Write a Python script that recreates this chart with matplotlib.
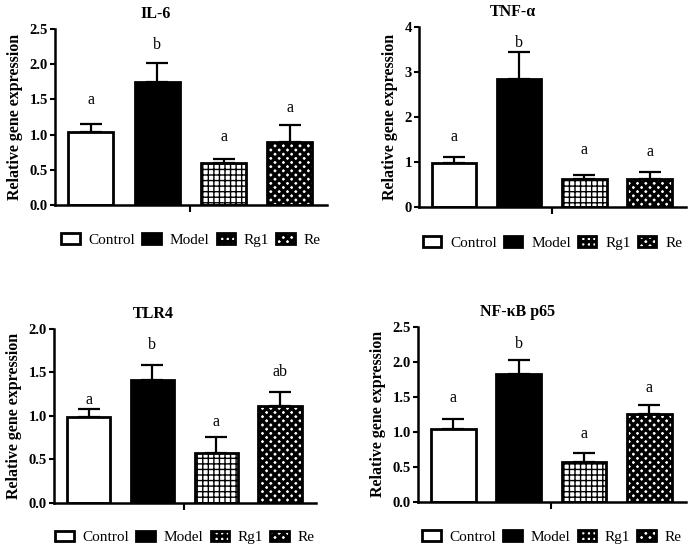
import matplotlib
matplotlib.use("Agg")
import matplotlib.pyplot as plt
from matplotlib.patches import Patch
import numpy as np

plt.rcParams['font.family'] = ['Liberation Serif', 'DejaVu Serif']

groups = ["Control", "Model", "Rg1", "Re"]

titles = ["IL-6", "TNF-α", "TLR4", "NF-κB p65"]

il6_mean = [1.04, 1.75, 0.59, 0.90]
il6_err = [0.11, 0.27, 0.06, 0.23]
il6_letters = ["a", "b", "a", "a"]
il6_letter_y = [1.49, 2.27, 0.97, 1.38]

tnf_mean = [0.97, 2.84, 0.62, 0.62]
tnf_err = [0.15, 0.60, 0.09, 0.15]
tnf_letters = ["a", "b", "a", "a"]
tnf_letter_y = [1.56, 3.64, 1.27, 1.22]

tlr4_mean = [0.99, 1.41, 0.57, 1.11]
tlr4_err = [0.09, 0.17, 0.19, 0.16]
tlr4_letters = ["a", "b", "a", "ab"]
tlr4_letter_y = [1.18, 1.82, 0.93, 1.50]

nfkb_mean = [1.04, 1.82, 0.57, 1.26]
nfkb_err = [0.14, 0.21, 0.12, 0.12]
nfkb_letters = ["a", "b", "a", "a"]
nfkb_letter_y = [1.48, 2.26, 0.97, 1.62]

ylims = [2.5, 4, 2.0, 2.5]
ysteps = [0.5, 1, 0.5, 0.5]
yfmt = ["{:.1f}", "{:.0f}", "{:.1f}", "{:.1f}"]

panels = [
    (il6_mean, il6_err, il6_letters, il6_letter_y),
    (tnf_mean, tnf_err, tnf_letters, tnf_letter_y),
    (tlr4_mean, tlr4_err, tlr4_letters, tlr4_letter_y),
    (nfkb_mean, nfkb_err, nfkb_letters, nfkb_letter_y),
]

facecolors = ["white", "black", "white", "white"]
hatches = [None, None, "+++", "xxxx"]
hatch_lws = [1.0, 1.0, 1.0, 2.4]

axes_pos = [
    [55 / 698, 1 - 205 / 550, 272 / 698, 176 / 550],
    [419 / 698, 1 - 207 / 550, 267 / 698, 180 / 550],
    [54 / 698, 1 - 502.7 / 550, 262 / 698, 173.7 / 550],
    [418 / 698, 1 - 501.7 / 550, 268 / 698, 175 / 550],
]
title_x = [0.37, 0.35, 0.38, 0.37]

fig = plt.figure(figsize=(6.98, 5.5), dpi=100)

def style_patch(p, lw_h):
    if hasattr(p, "set_hatch_linewidth"):
        p.set_hatch_linewidth(lw_h)

for i, (mean, err, letters, ly) in enumerate(panels):
    ax = fig.add_axes(axes_pos[i])
    x = np.arange(len(groups))
    for j in range(len(groups)):
        plt.rcParams['hatch.linewidth'] = hatch_lws[j]
        bars = ax.bar(x[j], mean[j], width=0.68, color=facecolors[j],
                      edgecolor="black", linewidth=2.0, hatch=hatches[j], zorder=2)
        for b in bars:
            style_patch(b, hatch_lws[j])
        ax.errorbar(x[j], mean[j], yerr=[[0], [err[j]]], fmt="none",
                    ecolor="black", elinewidth=1.6, capsize=8, capthick=1.6, zorder=1)
        ax.text(x[j], ly[j], letters[j], ha="center", va="center", fontsize=11.5)
    ax.set_xlim(-0.54, 3.56)
    ax.set_ylim(0, ylims[i])
    ticks = np.arange(0, ylims[i] + 1e-9, ysteps[i])
    ax.set_yticks(ticks)
    ax.set_yticklabels([yfmt[i].format(t) for t in ticks], fontweight="bold", fontsize=10.5)
    ax.set_xticks([1.5])
    ax.set_xticklabels([""])
    ax.tick_params(axis="x", length=5, width=1.5, direction="out")
    ax.tick_params(axis="y", length=3.5, width=1.5, direction="out", pad=1.5)
    for s in ["top", "right"]:
        ax.spines[s].set_visible(False)
    for s in ["left", "bottom"]:
        ax.spines[s].set_linewidth(1.8)
    ax.set_ylabel("Relative gene expression", fontweight="bold", fontsize=11.5, labelpad=5)
    ax.set_title(titles[i], fontweight="bold", fontsize=11.5, x=title_x[i], pad=8)

    handles = []
    for j in range(len(groups)):
        plt.rcParams['hatch.linewidth'] = hatch_lws[j]
        h = Patch(facecolor=facecolors[j], edgecolor="black", linewidth=2.0,
                  hatch=hatches[j], label=groups[j])
        style_patch(h, hatch_lws[j])
        handles.append(h)
    ax.legend(handles=handles, loc="center", bbox_to_anchor=(0.5, -0.2), ncol=4,
              frameon=False, fontsize=11, handlelength=1.2, handleheight=0.7,
              handletextpad=0.6, columnspacing=0.45, borderaxespad=0)

plt.rcParams['hatch.linewidth'] = 1.0
fig.savefig("out.png", dpi=100)
